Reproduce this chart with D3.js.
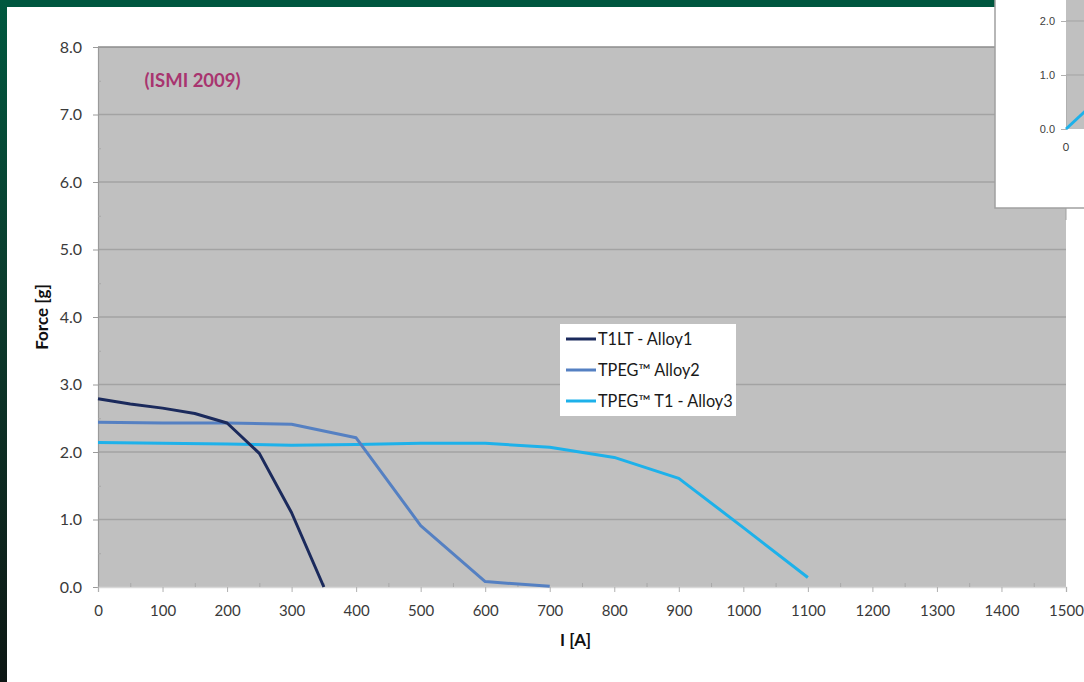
<!DOCTYPE html>
<html>
<head>
<meta charset="utf-8">
<script src="https://cdn.jsdelivr.net/npm/d3@7"></script>
<style>
  body { margin: 0; background: #fff; }
  svg { display: block; font-family: Lato, "Open Sans", sans-serif; }
</style>
</head>
<body>
<svg id="chart" width="1084" height="682"></svg>
<script>
const alloy1X = [0, 50, 100, 150, 200, 250, 300, 350];
const alloy1Y = [2.79, 2.71, 2.65, 2.57, 2.43, 1.98, 1.10, 0.0];

const alloy2X = [0, 100, 200, 300, 400, 500, 600, 700];
const alloy2Y = [2.44, 2.43, 2.43, 2.41, 2.21, 0.91, 0.08, 0.01];

const alloy3X = [0, 100, 200, 300, 400, 500, 600, 700, 800, 900, 1000, 1100];
const alloy3Y = [2.14, 2.13, 2.12, 2.10, 2.11, 2.13, 2.13, 2.07, 1.92, 1.61, 0.88, 0.14];

const seriesNames = ['T1LT - Alloy1', 'TPEG\u2122 Alloy2', 'TPEG\u2122 T1 - Alloy3'];
const seriesColors = ['#1b2a5c', '#5580c2', '#1db1ea'];

const xTicks = d3.range(0, 1501, 100);
const yTicks = d3.range(0, 8.01, 1);

// inset (cut off at right edge)
const insetX = [0, 100];
const insetY = [0, 1.1];
const insetTicks = [0, 1, 2];

function drawChart() {
  const svg = d3.select('#chart');

  // green slide frame
  const grad = svg.append('defs').append('linearGradient')
    .attr('id', 'frame').attr('x1', 0).attr('y1', 0).attr('x2', 0).attr('y2', 1);
  grad.append('stop').attr('offset', '0%').attr('stop-color', '#00583f');
  grad.append('stop').attr('offset', '45%').attr('stop-color', '#0c3a2c');
  grad.append('stop').attr('offset', '100%').attr('stop-color', '#0d1714');
  svg.append('rect').attr('x', 0).attr('y', 0).attr('width', 1084).attr('height', 7).attr('fill', '#00573f');
  svg.append('rect').attr('x', 0).attr('y', 0).attr('width', 7).attr('height', 682).attr('fill', 'url(#frame)');

  const margin = {top: 47, right: 18, bottom: 95, left: 98};
  const width = 1084, height = 682;

  const x = d3.scaleLinear().domain([0, 1500]).range([margin.left, width - margin.right]);
  const y = d3.scaleLinear().domain([0, 8]).range([height - margin.bottom, margin.top]);

  svg.append('rect')
    .attr('x', x(0)).attr('y', y(8))
    .attr('width', x(1500) - x(0)).attr('height', y(0) - y(8))
    .attr('fill', '#c0c0c0');

  // gridlines
  svg.append('g')
    .selectAll('line')
    .data(yTicks.filter(d => d > 0))
    .join('line')
      .attr('x1', x(0)).attr('x2', x(1500))
      .attr('y1', d => y(d)).attr('y2', d => y(d))
      .attr('stroke', d => d === 8 ? '#8c8c8c' : '#a3a3a3')
      .attr('stroke-width', 1.5);

  // y axis
  const yAxis = svg.append('g')
    .attr('transform', `translate(${x(0)}, 0)`)
    .call(d3.axisLeft(y).tickValues(yTicks).tickFormat(d3.format('.1f')).tickSize(5).tickPadding(11));
  yAxis.select('.domain').attr('stroke', '#9a9a9a').attr('stroke-width', 1.2);
  yAxis.selectAll('.tick line').attr('stroke', '#9a9a9a');
  yAxis.selectAll('text').attr('font-size', 16).attr('fill', '#3a3a3a').attr('font-family', 'Lato, sans-serif');
  svg.append('g')
    .attr('transform', `translate(${x(0)}, 0)`)
    .call(d3.axisRight(y).tickValues(d3.range(0.5, 8, 1)).tickSize(3).tickFormat(''))
    .call(g => g.select('.domain').remove())
    .selectAll('line').attr('stroke', '#a8a8a8');

  // x axis
  const xAxis = svg.append('g')
    .attr('transform', `translate(0, ${y(0)})`)
    .call(d3.axisBottom(x).tickValues(xTicks).tickFormat(d3.format('d')).tickSize(5).tickPadding(13));
  xAxis.select('.domain').attr('stroke', '#d8d8d8').attr('stroke-width', 1.5);
  xAxis.selectAll('.tick line').attr('stroke', '#b0b0b0');
  xAxis.selectAll('text').attr('font-size', 15).attr('fill', '#3a3a3a').attr('font-family', 'Lato, sans-serif');
  svg.append('g')
    .attr('transform', `translate(0, ${y(0)})`)
    .call(d3.axisTop(x).tickValues(d3.range(50, 1500, 100)).tickSize(4).tickFormat(''))
    .call(g => g.select('.domain').remove())
    .selectAll('line').attr('stroke', '#a8a8a8');

  // axis titles
  svg.append('text')
    .attr('transform', `translate(48, ${y(4)}) rotate(-90)`)
    .attr('text-anchor', 'middle')
    .attr('font-size', 17).attr('font-weight', 'bold').attr('fill', '#111')
    .text('Force [g]');
  svg.append('text')
    .attr('x', x(740)).attr('y', 646)
    .attr('text-anchor', 'middle')
    .attr('font-size', 17).attr('font-weight', 'bold').attr('fill', '#111')
    .text('I [A]');

  svg.append('text')
    .attr('x', x(72)).attr('y', y(7.5) + 6)
    .attr('font-size', 18.5).attr('font-weight', 'bold').attr('fill', '#a8346f')
    .text('(ISMI 2009)');

  // lines
  const series = [
    {name: seriesNames[0], color: seriesColors[0], values: alloy1X.map((d, i) => [d, alloy1Y[i]])},
    {name: seriesNames[1], color: seriesColors[1], values: alloy2X.map((d, i) => [d, alloy2Y[i]])},
    {name: seriesNames[2], color: seriesColors[2], values: alloy3X.map((d, i) => [d, alloy3Y[i]])}
  ];

  const line = d3.line()
    .x(d => x(d[0]))
    .y(d => y(d[1]));

  svg.selectAll('path.line')
      .data(series.slice().reverse())
    .join('path')
      .attr('class', 'line')
      .attr('d', d => line(d.values))
      .attr('fill', 'none')
      .attr('stroke', d => d.color)
      .attr('stroke-width', 3)
      .attr('stroke-linejoin', 'round');

  // legend
  const legend = svg.append('g').attr('transform', 'translate(560, 324)');
  legend.append('rect').attr('width', 176).attr('height', 92).attr('fill', '#fff');
  const item = legend.selectAll('g.item')
      .data(series)
    .join('g')
      .attr('class', 'item')
      .attr('transform', (d, i) => `translate(6, ${15 + i * 31})`);
  item.append('line')
    .attr('x1', 0).attr('x2', 30)
    .attr('stroke', d => d.color).attr('stroke-width', 3);
  item.append('text')
    .attr('x', 32).attr('y', 5.5)
    .attr('font-size', 16.3).attr('fill', '#1a1a1a')
    .text(d => d.name);

  // inset chart, cut off at the right edge
  const inset = svg.append('g');
  inset.append('rect')
    .attr('x', 995).attr('y', -2).attr('width', 100).attr('height', 210)
    .attr('fill', '#fff').attr('stroke', '#a0a0a0').attr('stroke-width', 1.5);
  inset.append('line')
    .attr('x1', 1066).attr('x2', 1066).attr('y1', 208).attr('y2', 220)
    .attr('stroke', '#a0a0a0');
  const ix = d3.scaleLinear().domain([0, 100]).range([1066, 1130]);
  const iy = d3.scaleLinear().domain([0, 1]).range([129, 75]);
  inset.append('rect')
    .attr('x', ix(0)).attr('y', 0).attr('width', 1084 - ix(0)).attr('height', iy(0))
    .attr('fill', '#c0c0c0');
  inset.selectAll('line.g')
      .data(insetTicks.filter(d => d > 0))
    .join('line')
      .attr('class', 'g')
      .attr('x1', ix(0)).attr('x2', 1084)
      .attr('y1', d => iy(d)).attr('y2', d => iy(d))
      .attr('stroke', '#a3a3a3');
  const iyAxis = inset.append('g')
    .attr('transform', `translate(${ix(0)}, 0)`)
    .call(d3.axisLeft(iy).tickValues(insetTicks).tickFormat(d3.format('.1f')).tickSize(5).tickPadding(6));
  iyAxis.select('.domain').attr('stroke', '#b0b0b0');
  iyAxis.selectAll('.tick line').attr('stroke', '#b0b0b0');
  iyAxis.selectAll('text').attr('font-size', 11).attr('fill', '#404040');
  inset.append('text')
    .attr('x', ix(0)).attr('y', 151)
    .attr('text-anchor', 'middle').attr('font-size', 11).attr('fill', '#404040')
    .text('0');
  inset.append('path')
    .attr('d', d3.line().x(d => ix(d[0])).y(d => iy(d[1]))(insetX.map((d, i) => [d, insetY[i]])))
    .attr('fill', 'none').attr('stroke', seriesColors[2]).attr('stroke-width', 3);
}

drawChart();
</script>
</body>
</html>
